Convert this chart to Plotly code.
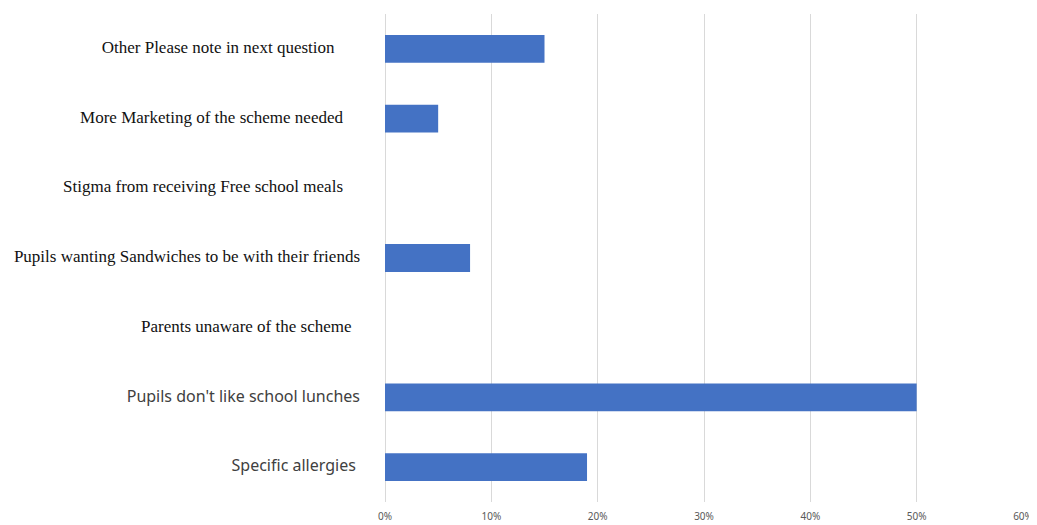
import plotly.graph_objects as go

categories = [
    "Other Please note in next question",
    "More Marketing of the scheme needed",
    "Stigma from receiving Free school meals",
    "Pupils wanting Sandwiches to be with their friends",
    "Parents unaware of the scheme",
    "Pupils don't like school lunches",
    "Specific allergies",
]
values = [0.15, 0.05, 0.0, 0.08, 0.0, 0.50, 0.19]
x_ticks = [0, 0.1, 0.2, 0.3, 0.4, 0.5, 0.6]
x_tick_labels = ["0%", "10%", "20%", "30%", "40%", "50%", "60%"]

# styling of the category labels (font family per label, trailing padding)
label_serif = [True, True, True, True, True, False, False]
label_pad = [6, 4, 4, 0, 2, 0, 1]

ticktext = []
for c, serif, pad in zip(categories, label_serif, label_pad):
    fam = "Liberation Serif" if serif else "Noto Sans"
    col = "#111111" if serif else "#404040"
    size = 17 if serif else 16
    ticktext.append(
        f'<span style="font-family:{fam};color:{col};font-size:{size}px">{c}' + "&nbsp;" * pad + "</span>"
    )

fig = go.Figure(
    go.Bar(
        x=values,
        y=categories,
        orientation="h",
        marker=dict(color="#4472C4", line=dict(width=0)),
    )
)

fig.update_layout(
    width=1029,
    height=517,
    margin=dict(l=377, r=14, t=6, b=23, autoexpand=False),
    paper_bgcolor="white",
    plot_bgcolor="white",
    bargap=0.6,
    showlegend=False,
    font=dict(family="Noto Sans", color="#595959"),
)
fig.update_xaxes(
    range=[0, 0.6],
    tickvals=x_ticks,
    ticktext=x_tick_labels,
    showgrid=True,
    gridcolor="#d9d9d9",
    gridwidth=1,
    zeroline=True,
    zerolinecolor="#d9d9d9",
    zerolinewidth=1,
    showline=False,
    tickfont=dict(size=10, color="#595959", family="Noto Sans"),
    ticks="",
    ticklabelstandoff=7,
)
fig.update_yaxes(
    type="category",
    autorange="reversed",
    tickvals=categories,
    ticktext=ticktext,
    showgrid=False,
    zeroline=False,
    showline=False,
    ticks="",
    ticklabelstandoff=24,
)

fig.write_html("out.html")
